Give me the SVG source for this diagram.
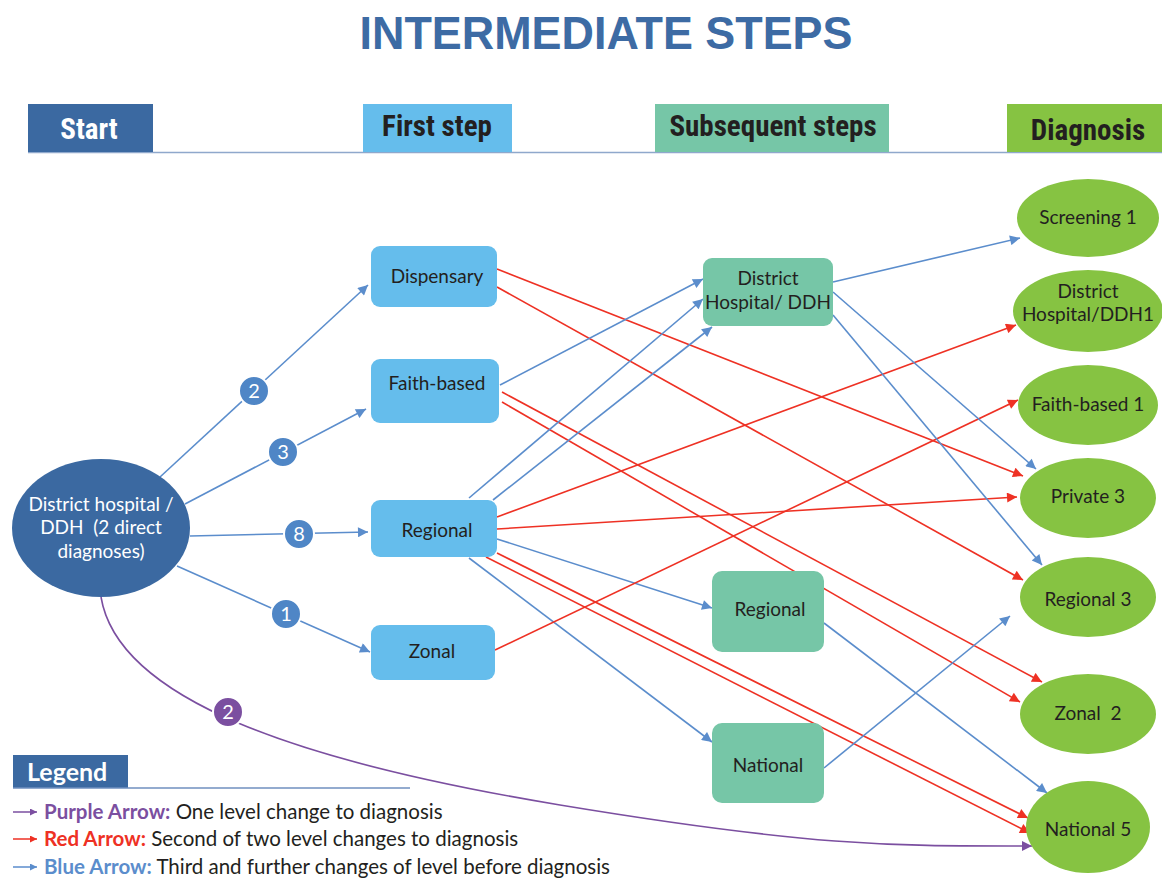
<svg xmlns="http://www.w3.org/2000/svg" width="1162" height="882" viewBox="0 0 1162 882">
<style>
.t{font-family:Lato,"Open Sans","Liberation Sans",sans-serif;fill:#231f20;font-size:19px;text-anchor:middle}
.hd{font-family:"Liberation Sans Narrow","Roboto Condensed",Roboto,"Liberation Sans",sans-serif;font-weight:bold;font-size:29px;text-anchor:middle;fill:#231f20}
.b{stroke:#5b8dcc;stroke-width:1.6;fill:none;marker-end:url(#ab)}
.r{stroke:#ee3124;stroke-width:1.6;fill:none;marker-end:url(#ar)}
.p{stroke:#7b4fa0;stroke-width:1.6;fill:none;marker-end:url(#ap)}
.fs{fill:#65bdec}
.ss{fill:#76c6a7}
.dg{fill:#86c342}
.bd{fill:#4f86c6;stroke:#fff;stroke-width:2}
.bt{font-family:Lato,"Open Sans","Liberation Sans",sans-serif;fill:#fff;font-size:20px;text-anchor:middle}
.lg{font-family:Lato,"Open Sans","Liberation Sans",sans-serif;font-size:20.5px;fill:#231f20}
</style>
<defs>
<marker id="ab" viewBox="0 0 10 10" refX="10" refY="5" markerWidth="12" markerHeight="10" markerUnits="userSpaceOnUse" orient="auto"><path d="M0,0 L10,5 L0,10 z" fill="#5b8dcc"/></marker>
<marker id="ar" viewBox="0 0 10 10" refX="10" refY="5" markerWidth="12" markerHeight="10" markerUnits="userSpaceOnUse" orient="auto"><path d="M0,0 L10,5 L0,10 z" fill="#ee3124"/></marker>
<marker id="ap" viewBox="0 0 10 10" refX="10" refY="5" markerWidth="12" markerHeight="10" markerUnits="userSpaceOnUse" orient="auto"><path d="M0,0 L10,5 L0,10 z" fill="#7b4fa0"/></marker>
<marker id="lp" viewBox="0 0 10 10" refX="10" refY="5" markerWidth="8" markerHeight="7" markerUnits="userSpaceOnUse" orient="auto"><path d="M0,0 L10,5 L0,10 z" fill="#7b4fa0"/></marker>
<marker id="lr" viewBox="0 0 10 10" refX="10" refY="5" markerWidth="8" markerHeight="7" markerUnits="userSpaceOnUse" orient="auto"><path d="M0,0 L10,5 L0,10 z" fill="#ee3124"/></marker>
<marker id="lb" viewBox="0 0 10 10" refX="10" refY="5" markerWidth="8" markerHeight="7" markerUnits="userSpaceOnUse" orient="auto"><path d="M0,0 L10,5 L0,10 z" fill="#5b8dcc"/></marker>
</defs>
<rect width="1162" height="882" fill="#fff"/>

<g id="title">
<text x="606" y="49" font-family="'Liberation Sans',Arial,sans-serif" font-weight="bold" font-size="46" fill="#3d6ba4" text-anchor="middle" textLength="493" lengthAdjust="spacingAndGlyphs">INTERMEDIATE STEPS</text>
</g>

<g id="header">
<line x1="28" y1="152.5" x2="1162" y2="152.5" stroke="#8fa8cc" stroke-width="1.5"/>
<rect x="28" y="104" width="125" height="48" fill="#3b69a1"/>
<text class="hd" x="89" y="139" style="fill:#fff">Start</text>
<rect x="363" y="104" width="149" height="48" fill="#65bdec"/>
<text class="hd" x="437" y="136">First step</text>
<rect x="655" y="104" width="234" height="48" fill="#76c6a7"/>
<text class="hd" x="773" y="136">Subsequent steps</text>
<rect x="1007" y="104" width="155" height="48" fill="#86c342"/>
<text class="hd" x="1088" y="140">Diagnosis</text>
</g>

<g id="connectors">
<line class="b" x1="160" y1="477" x2="368" y2="285"/>
<line class="b" x1="185" y1="504" x2="366" y2="409"/>
<line class="b" x1="190" y1="536" x2="368" y2="532"/>
<line class="b" x1="177" y1="566" x2="370" y2="652"/>
<path class="p" d="M101 597 C118 700 300 762 560 805 S 900 846 1032 846"/>

<line class="r" x1="497" y1="269" x2="1023" y2="476"/>
<line class="r" x1="497" y1="287" x2="1023" y2="580"/>
<line class="b" x1="500" y1="385" x2="703" y2="279"/>
<line class="r" x1="502" y1="392" x2="1042" y2="682"/>
<line class="r" x1="502" y1="402" x2="1020" y2="702"/>
<line class="b" x1="469" y1="498" x2="703" y2="299"/>
<line class="b" x1="493" y1="500" x2="712" y2="327"/>
<line class="r" x1="497" y1="517" x2="1016" y2="325"/>
<line class="r" x1="497" y1="529" x2="1017" y2="497"/>
<line class="b" x1="497" y1="539" x2="712" y2="608"/>
<line class="r" x1="497" y1="553" x2="1028" y2="818"/>
<line class="r" x1="486" y1="557" x2="1030" y2="833"/>
<line class="b" x1="469" y1="558" x2="712" y2="742"/>
<line class="r" x1="495" y1="650" x2="1018" y2="400"/>

<line class="b" x1="833" y1="282" x2="1020" y2="238"/>
<line class="b" x1="833" y1="292" x2="1036" y2="469"/>
<line class="b" x1="833" y1="315" x2="1042" y2="565"/>
<line class="b" x1="824" y1="623" x2="1047" y2="793"/>
<line class="b" x1="824" y1="768" x2="1010" y2="616"/>
</g>

<g id="badges">
<circle class="bd" cx="254" cy="391" r="15"/><text class="bt" x="254" y="398">2</text>
<circle class="bd" cx="283" cy="452" r="15"/><text class="bt" x="283" y="459">3</text>
<circle class="bd" cx="299" cy="534" r="15"/><text class="bt" x="299" y="541">8</text>
<circle class="bd" cx="286" cy="614" r="15"/><text class="bt" x="286" y="621">1</text>
<circle cx="228" cy="712" r="15" fill="#7b4fa0" stroke="#fff" stroke-width="2"/><text class="bt" x="228" y="719">2</text>
</g>

<g id="start">
<ellipse cx="101" cy="528" rx="89" ry="69" fill="#3b69a1"/>
<text class="t" x="101" y="511" style="fill:#fff">District hospital /</text>
<text class="t" x="101" y="534" style="fill:#fff">DDH&#160; (2 direct</text>
<text class="t" x="101" y="558" style="fill:#fff">diagnoses)</text>
</g>

<g id="fs-dispensary"><rect class="fs" x="371" y="246" width="126" height="61" rx="9"/><text class="t" x="437" y="283">Dispensary</text></g>
<g id="fs-faith"><rect class="fs" x="371" y="359" width="128" height="64" rx="9"/><text class="t" x="437" y="390">Faith-based</text></g>
<g id="fs-regional"><rect class="fs" x="371" y="500" width="126" height="57" rx="9"/><text class="t" x="437" y="537">Regional</text></g>
<g id="fs-zonal"><rect class="fs" x="371" y="625" width="124" height="55" rx="9"/><text class="t" x="432" y="658">Zonal</text></g>

<g id="ss-ddh"><rect class="ss" x="703" y="258" width="130" height="68" rx="9"/><text class="t" x="768" y="285">District</text><text class="t" x="768" y="309">Hospital/ DDH</text></g>
<g id="ss-regional"><rect class="ss" x="712" y="571" width="112" height="81" rx="10"/><text class="t" x="770" y="616">Regional</text></g>
<g id="ss-national"><rect class="ss" x="712" y="723" width="112" height="80" rx="10"/><text class="t" x="768" y="772">National</text></g>

<g id="dg-screening"><ellipse class="dg" cx="1088" cy="218" rx="71" ry="39"/><text class="t" x="1088" y="224">Screening 1</text></g>
<g id="dg-ddh1"><ellipse class="dg" cx="1088" cy="311" rx="75" ry="41"/><text class="t" x="1088" y="298">District</text><text class="t" x="1088" y="321">Hospital/DDH1</text></g>
<g id="dg-faith"><ellipse class="dg" cx="1088" cy="405" rx="70" ry="40"/><text class="t" x="1088" y="411">Faith-based 1</text></g>
<g id="dg-private"><ellipse class="dg" cx="1088" cy="498" rx="68" ry="40"/><text class="t" x="1088" y="503">Private 3</text></g>
<g id="dg-regional"><ellipse class="dg" cx="1088" cy="597" rx="68" ry="40"/><text class="t" x="1088" y="606">Regional 3</text></g>
<g id="dg-zonal"><ellipse class="dg" cx="1088" cy="714" rx="68" ry="40"/><text class="t" x="1088" y="720">Zonal&#160; 2</text></g>
<g id="dg-national"><ellipse class="dg" cx="1088" cy="827" rx="62" ry="46"/><text class="t" x="1088" y="836">National 5</text></g>

<g id="legend">
<rect x="13" y="755" width="115" height="33" fill="#3b69a1"/>
<text x="27" y="781" font-family="Lato,'Open Sans','Liberation Sans',sans-serif" font-weight="bold" font-size="25" fill="#fff">Legend</text>
<line x1="13" y1="788" x2="410" y2="788" stroke="#6f8fbf" stroke-width="1.5"/>
<line x1="13" y1="812" x2="37" y2="812" stroke="#7b4fa0" stroke-width="1.5" marker-end="url(#lp)"/>
<text class="lg" x="44" y="819"><tspan font-weight="bold" fill="#7b4fa0">Purple Arrow:</tspan> One level change to diagnosis</text>
<line x1="13" y1="839" x2="37" y2="839" stroke="#ee3124" stroke-width="1.5" marker-end="url(#lr)"/>
<text class="lg" x="44" y="846"><tspan font-weight="bold" fill="#ee3124">Red Arrow:</tspan> Second of two level changes to diagnosis</text>
<line x1="13" y1="867" x2="37" y2="867" stroke="#5b8dcc" stroke-width="1.5" marker-end="url(#lb)"/>
<text class="lg" x="44" y="874"><tspan font-weight="bold" fill="#5b8dcc">Blue Arrow:</tspan> Third and further changes of level before diagnosis</text>
</g>
</svg>
